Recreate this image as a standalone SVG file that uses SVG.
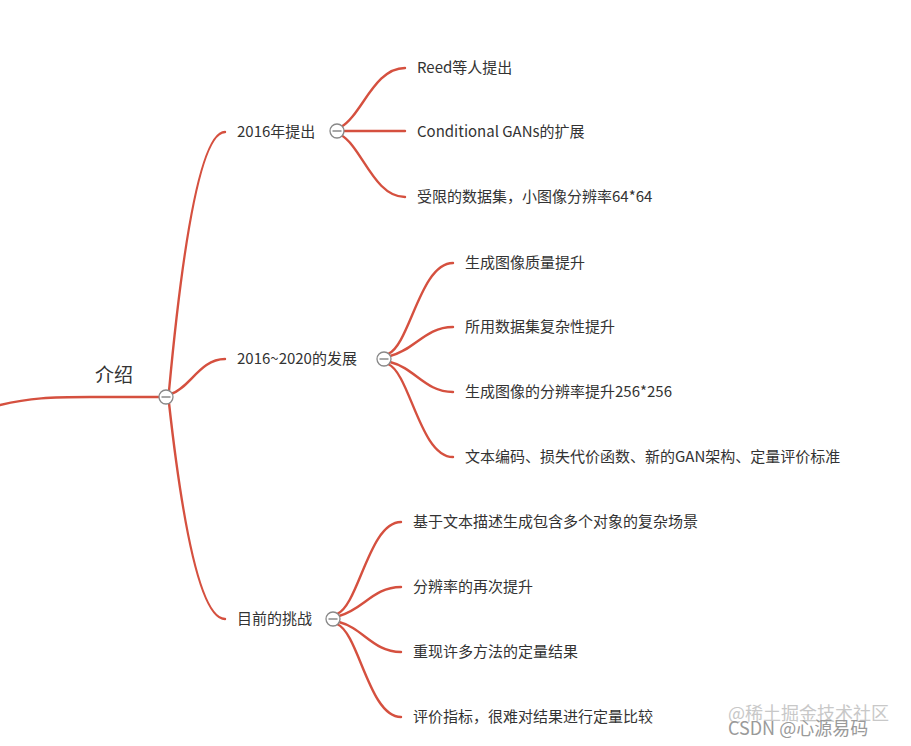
<svg xmlns="http://www.w3.org/2000/svg" width="911" height="746" viewBox="0 0 911 746">
<style>
.ln{fill:none;stroke:#d5503f;stroke-width:2.4;stroke-linecap:round}
.t{font-family:"Noto Sans CJK SC","Liberation Sans",sans-serif;font-size:15px;fill:#333}
.root{font-family:"Noto Sans CJK SC","Liberation Sans",sans-serif;font-size:19px;fill:#333}
.c{fill:#fff;stroke:#888;stroke-width:1.3}
.m{stroke:#777;stroke-width:1.3}
.wm{font-family:"Noto Sans CJK SC","Liberation Sans",sans-serif;font-size:18px}
</style>
<defs>
<g id="tog"><circle class="c" r="7"/><line class="m" x1="-4.5" y1="0" x2="4.5" y2="0"/></g>
</defs>
<rect width="911" height="746" fill="#fff"/>
<g id="connectors">
<path class="ln" d="M0,405 C30,398 50,397 90,397 H160"/>
<path class="ln" d="M169,391 Q193,132 225,132"/>
<path class="ln" d="M171,394 C190,388 200,359 225,359"/>
<path class="ln" d="M169,403 Q193,619 225,619"/>
<path class="ln" d="M341,127 C362,115 374,68 405,68"/>
<path class="ln" d="M344,131 H405"/>
<path class="ln" d="M341,135 C362,147 374,197 405,197"/>
<path class="ln" d="M388,354 C410,345 420,263 453,263"/>
<path class="ln" d="M390,356 C415,350 425,327 453,327"/>
<path class="ln" d="M390,362 C415,368 425,392 453,392"/>
<path class="ln" d="M388,364 C410,373 420,457 453,457"/>
<path class="ln" d="M337,614 C359,605 369,522 401,522"/>
<path class="ln" d="M339,616 C363,610 373,587 401,587"/>
<path class="ln" d="M339,622 C363,628 373,652 401,652"/>
<path class="ln" d="M337,624 C359,633 369,717 401,717"/>
</g>
<g id="root"><text class="root" x="95" y="382">介绍</text><use href="#tog" x="166" y="397"/></g>
<g id="n1"><text class="t" x="237" y="137">2016年提出</text><use href="#tog" x="337" y="131"/></g>
<g id="n2"><text class="t" x="237" y="364">2016~2020的发展</text><use href="#tog" x="384" y="359"/></g>
<g id="n3"><text class="t" x="237" y="624">目前的挑战</text><use href="#tog" x="333" y="619"/></g>
<g id="n1a"><text class="t" x="417" y="73">Reed等人提出</text></g>
<g id="n1b"><text class="t" x="417" y="137">Conditional GANs的扩展</text></g>
<g id="n1c"><text class="t" x="417" y="202">受限的数据集，小图像分辨率64*64</text></g>
<g id="n2a"><text class="t" x="465" y="268">生成图像质量提升</text></g>
<g id="n2b"><text class="t" x="465" y="332">所用数据集复杂性提升</text></g>
<g id="n2c"><text class="t" x="465" y="397">生成图像的分辨率提升256*256</text></g>
<g id="n2d"><text class="t" x="465" y="462">文本编码、损失代价函数、新的GAN架构、定量评价标准</text></g>
<g id="n3a"><text class="t" x="413" y="527">基于文本描述生成包含多个对象的复杂场景</text></g>
<g id="n3b"><text class="t" x="413" y="592">分辨率的再次提升</text></g>
<g id="n3c"><text class="t" x="413" y="657">重现许多方法的定量结果</text></g>
<g id="n3d"><text class="t" x="413" y="722">评价指标，很难对结果进行定量比较</text></g>
<g id="watermark">
<text class="wm" x="728" y="720" fill="#c8c8c8">@稀土掘金技术社区</text>
<text class="wm" x="728" y="735" fill="#9a9a9a">CSDN @心源易码</text>
</g>
</svg>
